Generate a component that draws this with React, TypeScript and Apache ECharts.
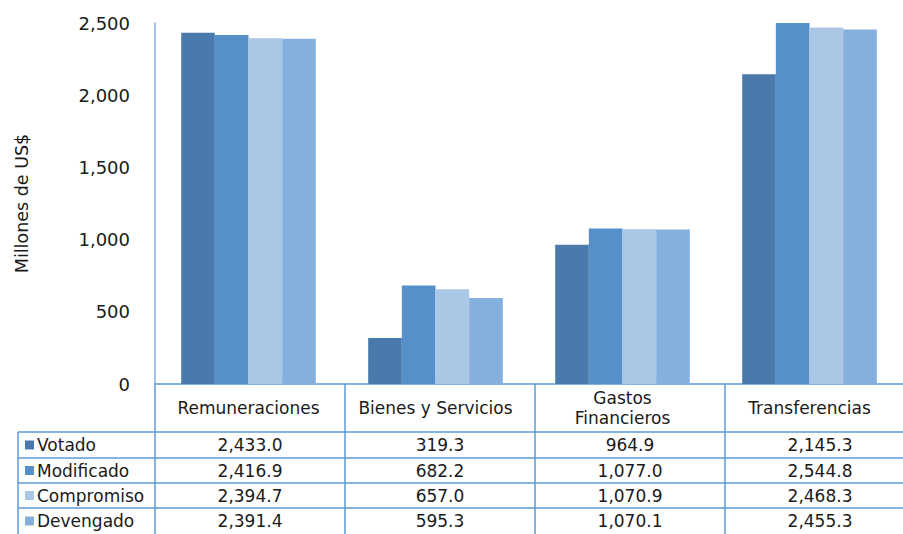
import React, { useEffect, useRef } from "react";
import * as echarts from "echarts";

const categories = ["Remuneraciones", "Bienes y Servicios", "Gastos\nFinancieros", "Transferencias"];
const seriesNames = ["Votado", "Modificado", "Compromiso", "Devengado"];
const votado = [2433.0, 319.3, 964.9, 2145.3];
const modificado = [2416.9, 682.2, 1077.0, 2544.8];
const compromiso = [2394.7, 657.0, 1070.9, 2468.3];
const devengado = [2391.4, 595.3, 1070.1, 2455.3];
const seriesColors = ["#4a7aab", "#5590cb", "#abc7e6", "#85afdd"];
const yMax = 2500;
const yInterval = 500;
const yTitle = "Millones de US$";

const FONT = "DejaVu Sans";
const LINE = "#5b9bd5";
const TEXT = "#1a1a1a";

export default function App() {
  const ref = useRef<HTMLDivElement>(null);
  useEffect(() => {
    if (!ref.current) return;
    const chart = echarts.init(ref.current, undefined, { renderer: "svg" });
    const allSeries = [votado, modificado, compromiso, devengado];

    const gridLeft = 155;
    const gridTop = 23;
    const gridWidth = 760;
    const gridHeight = 361;
    const axisY = gridTop + gridHeight;
    const colW = gridWidth / categories.length;
    const tableLeft = 18;
    const chartRight = 903;
    const rowLines = [432, 458, 483, 508];
    const rowBottom = 534;

    const graphics: any[] = [];
    graphics.push({
      type: "line",
      shape: { x1: tableLeft, y1: rowLines[0], x2: tableLeft, y2: rowBottom },
      style: { stroke: LINE, lineWidth: 1.5 },
    });
    for (let i = 0; i <= categories.length; i++) {
      const x = gridLeft + i * colW;
      graphics.push({
        type: "line",
        shape: { x1: x, y1: axisY, x2: x, y2: rowBottom },
        style: { stroke: LINE, lineWidth: 1.5 },
      });
    }
    rowLines.forEach((y) => {
      graphics.push({
        type: "line",
        shape: { x1: tableLeft, y1: y, x2: chartRight, y2: y },
        style: { stroke: LINE, lineWidth: 1.5 },
      });
    });
    const rowCenters = rowLines.map((y, i) => ((i + 1 < rowLines.length ? rowLines[i + 1] : rowBottom) + y) / 2);
    seriesNames.forEach((name, r) => {
      const cy = rowCenters[r];
      graphics.push({
        type: "rect",
        shape: { x: 25, y: cy - 4.5, width: 9, height: 9 },
        style: { fill: seriesColors[r] },
      });
      graphics.push({
        type: "text",
        x: 37,
        y: cy,
        style: {
          text: name,
          font: `17px "${FONT}"`,
          fill: TEXT,
          textAlign: "left",
          textVerticalAlign: "middle",
        },
      });
      allSeries[r].forEach((v, c) => {
        graphics.push({
          type: "text",
          x: gridLeft + (c + 0.5) * colW,
          y: cy,
          style: {
            text: v.toLocaleString("en-US", { minimumFractionDigits: 1, maximumFractionDigits: 1 }),
            font: `17px "${FONT}"`,
            fill: TEXT,
            textAlign: "center",
            textVerticalAlign: "middle",
          },
        });
      });
    });

    chart.setOption({
      animation: false,
      grid: { left: gridLeft, top: gridTop, width: gridWidth, height: gridHeight, containLabel: false },
      xAxis: {
        type: "category",
        data: categories,
        axisLine: { show: true, lineStyle: { color: LINE, width: 1.5 } },
        axisTick: { show: false },
        axisLabel: {
          interval: 0,
          margin: 24,
          verticalAlign: "middle",
          fontFamily: FONT,
          fontSize: 17,
          color: TEXT,
          lineHeight: 20,
        },
      },
      yAxis: {
        type: "value",
        min: 0,
        max: yMax,
        interval: yInterval,
        name: yTitle,
        nameLocation: "middle",
        nameRotate: 90,
        nameGap: 124,
        nameTextStyle: { fontFamily: FONT, fontSize: 17.5, color: TEXT },
        axisLine: { show: true, lineStyle: { color: "#7fb0e0", width: 1.5 } },
        axisTick: { show: false },
        splitLine: { show: false },
        axisLabel: {
          margin: 25,
          fontFamily: FONT,
          fontSize: 18,
          color: TEXT,
          formatter: (v: number) => v.toLocaleString("en-US"),
        },
      },
      series: seriesNames.map((name, i) => ({
        name,
        type: "bar",
        data: allSeries[i],
        itemStyle: { color: seriesColors[i] },
        barGap: "0%",
        barCategoryGap: "28%",
        clip: true,
      })),
      graphic: graphics,
    });
    return () => chart.dispose();
  }, []);
  return (
    <div
      ref={ref}
      style={{ position: "fixed", left: 0, top: 0, width: 903, height: 534, background: "#fff" }}
    />
  );
}
